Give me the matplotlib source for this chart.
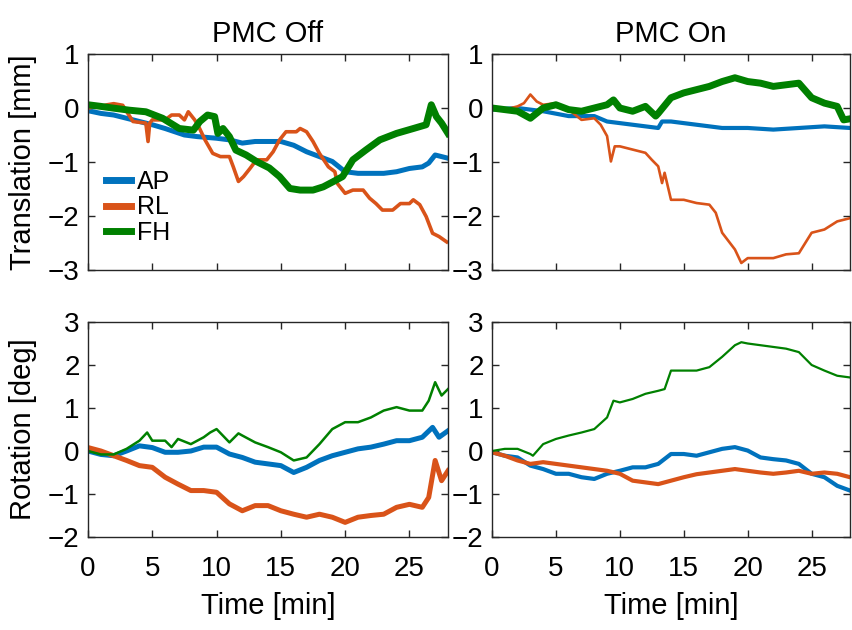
import matplotlib
matplotlib.use("Agg")
import matplotlib.pyplot as plt

plt.rcParams['font.family'] = ['Liberation Sans', 'DejaVu Sans']

# ---------------- data ----------------
series_names = ["AP", "RL", "FH"]
col_titles = ["PMC Off", "PMC On"]
row_labels = ["Translation [mm]", "Rotation [deg]"]
x_ticks = [0, 5, 10, 15, 20, 25]
trans_ticks = [-3, -2, -1, 0, 1]
rot_ticks = [-2, -1, 0, 1, 2, 3]

# Translation, PMC Off
t_off_ap = [0, 1, 2, 3, 4, 5, 6, 7, 7.5, 8.5, 10, 11, 12, 13, 14, 15, 16, 17, 18, 19, 20, 21, 22, 23, 24, 25, 26, 26.5, 27, 27.5, 28]
off_trans_ap = [-0.05, -0.10, -0.13, -0.19, -0.25, -0.31, -0.38, -0.46, -0.50, -0.53, -0.56, -0.59, -0.65, -0.62, -0.62, -0.62, -0.69, -0.81, -0.90, -0.99, -1.18, -1.21, -1.21, -1.21, -1.18, -1.12, -1.09, -1.02, -0.87, -0.90, -0.93]
t_off_rl = [0, 0.5, 1, 1.5, 2, 2.7, 3.5, 4.5, 4.67, 4.8, 5, 6, 6.5, 7.1, 7.5, 7.8, 8.3, 8.6, 9.1, 9.7, 10.3, 11, 11.3, 11.7, 12.1, 12.6, 13.1, 13.9, 14.4, 14.9, 15.4, 16.2, 16.5, 17, 17.5, 18, 18.7, 19.2, 19.4, 20, 20.6, 21.4, 21.9, 22.4, 22.9, 23.7, 24.3, 25, 25.3, 25.8, 26.3, 26.8, 27.3, 27.9]
off_trans_rl = [0.0, 0.02, 0.03, 0.06, 0.08, 0.05, -0.25, -0.28, -0.62, -0.28, -0.22, -0.22, -0.13, -0.13, -0.22, -0.07, -0.22, -0.34, -0.59, -0.84, -0.90, -0.90, -1.09, -1.36, -1.27, -1.12, -0.96, -0.96, -0.81, -0.59, -0.44, -0.44, -0.38, -0.44, -0.62, -0.84, -1.09, -1.18, -1.40, -1.58, -1.52, -1.52, -1.67, -1.77, -1.89, -1.89, -1.77, -1.77, -1.70, -1.79, -2.01, -2.32, -2.38, -2.48]
t_off_fh = [0, 1, 1.9, 3.2, 4.5, 5.8, 7.1, 8.2, 8.7, 9.3, 9.85, 10.1, 10.5, 11, 11.5, 12.3, 13.1, 14.1, 14.9, 15.7, 16.5, 17.5, 18.3, 19.1, 19.8, 20.6, 21.6, 22.7, 24, 25.3, 26.3, 26.7, 27.1, 27.5, 28]
off_trans_fh = [0.06, 0.03, 0.0, -0.04, -0.07, -0.19, -0.38, -0.41, -0.25, -0.13, -0.16, -0.47, -0.38, -0.53, -0.78, -0.87, -0.99, -1.11, -1.27, -1.49, -1.52, -1.52, -1.46, -1.36, -1.27, -0.96, -0.78, -0.59, -0.47, -0.38, -0.31, 0.06, -0.16, -0.28, -0.47]

# Translation, PMC On
t_on_ap = [0, 2, 4, 6, 8, 9, 10, 12, 13, 13.3, 14, 16, 18, 20, 22, 24, 26, 28]
on_trans_ap = [-0.03, 0.0, -0.06, -0.15, -0.15, -0.25, -0.28, -0.34, -0.37, -0.25, -0.25, -0.31, -0.37, -0.37, -0.40, -0.37, -0.34, -0.37]
t_on_rl = [0, 1, 2, 2.5, 3, 3.5, 4, 5, 6, 7, 8, 8.5, 9, 9.3, 9.6, 10, 11, 12, 12.5, 13, 13.3, 13.5, 14, 15, 16, 17, 17.5, 18, 19, 19.5, 20, 21, 22, 23, 24, 25, 26, 27, 28]
on_trans_rl = [0.0, -0.03, 0.03, 0.09, 0.25, 0.12, 0.06, 0.09, -0.03, -0.22, -0.19, -0.31, -0.52, -0.99, -0.71, -0.71, -0.77, -0.83, -0.96, -1.08, -1.39, -1.20, -1.70, -1.70, -1.76, -1.79, -1.94, -2.31, -2.62, -2.87, -2.78, -2.78, -2.78, -2.71, -2.69, -2.31, -2.25, -2.10, -2.04]
t_on_fh = [0, 1, 2, 3, 4, 5, 6, 7, 8, 9, 9.5, 10, 11, 12, 12.8, 13, 14, 15, 16, 17, 18, 19, 20, 21, 22, 23, 24, 25, 26, 27, 27.5, 28]
on_trans_fh = [0.0, -0.03, -0.06, -0.19, 0.0, 0.06, -0.03, -0.06, 0.0, 0.06, 0.15, 0.0, -0.06, 0.03, -0.15, -0.10, 0.19, 0.28, 0.34, 0.40, 0.49, 0.56, 0.49, 0.46, 0.40, 0.43, 0.46, 0.19, 0.09, 0.03, -0.22, -0.20]

# Rotation, PMC Off
t_roff_ap = [0, 1, 2, 3, 4, 5, 6, 7, 8, 9, 10, 11, 12, 13, 14, 15, 16, 17, 18, 19, 20, 21, 22, 23, 24, 25, 26, 26.8, 27.3, 28]
off_rot_ap = [0.0, -0.08, -0.11, 0.0, 0.12, 0.08, -0.03, -0.03, 0.0, 0.09, 0.09, -0.07, -0.15, -0.26, -0.30, -0.34, -0.50, -0.38, -0.22, -0.11, -0.03, 0.05, 0.09, 0.16, 0.24, 0.24, 0.32, 0.55, 0.32, 0.47]
t_roff_rl = [0, 1, 2, 3, 4, 5, 6, 7, 8, 9, 10, 11, 12, 13, 14, 15, 16, 17, 18, 19, 20, 21, 22, 23, 24, 25, 26, 26.5, 27, 27.5, 28]
off_rot_rl = [0.08, 0.0, -0.11, -0.22, -0.34, -0.38, -0.61, -0.77, -0.92, -0.92, -0.96, -1.23, -1.39, -1.27, -1.27, -1.39, -1.47, -1.54, -1.47, -1.54, -1.66, -1.54, -1.50, -1.47, -1.31, -1.24, -1.31, -1.08, -0.22, -0.69, -0.46]
t_roff_fh = [0, 1, 2, 3, 4, 4.6, 5, 6, 6.5, 7, 8, 9, 9.5, 10, 11, 11.7, 12, 13, 14, 15, 16, 17, 18, 19, 20, 21, 22, 23, 24, 25, 26, 26.5, 27, 27.5, 28]
off_rot_fh = [0.0, -0.08, -0.08, 0.05, 0.24, 0.43, 0.24, 0.24, 0.09, 0.28, 0.16, 0.32, 0.43, 0.51, 0.20, 0.41, 0.36, 0.20, 0.09, -0.03, -0.22, -0.15, 0.16, 0.51, 0.67, 0.67, 0.78, 0.94, 1.02, 0.94, 0.94, 1.17, 1.60, 1.29, 1.44]

# Rotation, PMC On
t_ron_ap = [0, 1, 2, 3, 4, 5, 6, 7, 8, 9, 10, 11, 12, 13, 14, 15, 16, 17, 18, 19, 20, 21, 22, 23, 24, 25, 26, 27, 28]
on_rot_ap = [-0.03, -0.11, -0.15, -0.34, -0.42, -0.53, -0.53, -0.61, -0.65, -0.53, -0.46, -0.38, -0.38, -0.30, -0.07, -0.07, -0.11, -0.03, 0.05, 0.09, 0.01, -0.15, -0.19, -0.22, -0.30, -0.53, -0.61, -0.81, -0.92]
t_ron_rl = [0, 1, 2, 3, 4, 5, 6, 7, 8, 9, 10, 11, 12, 13, 14, 15, 16, 17, 18, 19, 20, 21, 22, 23, 24, 25, 26, 27, 28]
on_rot_rl = [-0.03, -0.11, -0.22, -0.30, -0.26, -0.30, -0.34, -0.38, -0.42, -0.46, -0.53, -0.69, -0.73, -0.77, -0.69, -0.61, -0.54, -0.50, -0.46, -0.42, -0.46, -0.50, -0.53, -0.50, -0.46, -0.53, -0.50, -0.53, -0.61]
t_ron_fh = [0, 1, 2, 3, 3.2, 4, 5, 6, 7, 8, 9, 9.5, 10, 11, 12, 13, 13.5, 14, 15, 16, 17, 18, 19, 19.5, 20, 21, 22, 23, 24, 25, 26, 27, 28]
on_rot_fh = [0.0, 0.05, 0.05, -0.07, -0.11, 0.16, 0.28, 0.36, 0.43, 0.51, 0.78, 1.17, 1.13, 1.21, 1.33, 1.40, 1.44, 1.87, 1.87, 1.87, 1.95, 2.19, 2.46, 2.53, 2.50, 2.46, 2.42, 2.38, 2.30, 2.00, 1.87, 1.75, 1.71]

# ---------------- styling ----------------
colors = ["#0072BD", "#D95319", "#008000"]
spine_color = "#262626"
FS = 20

panels = [
    (0, 0, [(t_off_ap, off_trans_ap, 3.6), (t_off_rl, off_trans_rl, 2.6), (t_off_fh, off_trans_fh, 5.0)]),
    (0, 1, [(t_on_ap, on_trans_ap, 3.0), (t_on_rl, on_trans_rl, 1.9), (t_on_fh, on_trans_fh, 5.0)]),
    (1, 0, [(t_roff_ap, off_rot_ap, 3.6), (t_roff_rl, off_rot_rl, 3.6), (t_roff_fh, off_rot_fh, 1.8)]),
    (1, 1, [(t_ron_ap, on_rot_ap, 3.0), (t_ron_rl, on_rot_rl, 3.0), (t_ron_fh, on_rot_fh, 1.6)]),
]

W, H = 853, 630
fig = plt.figure(figsize=(W / 100, H / 100), dpi=100)
lefts = [88, 492]
widths = [360, 358]
tops = [54, 322]
heights = [216, 215]

axes = {}
for r in range(2):
    for c in range(2):
        ax = fig.add_axes([lefts[c] / W, (H - tops[r] - heights[r]) / H, widths[c] / W, heights[r] / H])
        axes[(r, c)] = ax

for r, c, lines in panels:
    ax = axes[(r, c)]
    for (t, y, lw), col, name in zip(lines, colors, series_names):
        ax.plot(t, y, color=col, lw=lw, label=name)
    ax.set_xlim(0, 28)
    ax.set_xticks(x_ticks)
    if r == 0:
        ax.set_ylim(-3, 1)
        ax.set_yticks(trans_ticks)
        ax.set_xticklabels([])
        ax.set_title(col_titles[c], fontsize=FS + 1, pad=9)
    else:
        ax.set_ylim(-2, 3)
        ax.set_yticks(rot_ticks)
        ax.set_xlabel("Time [min]", fontsize=FS + 1, labelpad=7)
    if c == 0:
        ax.set_ylabel(row_labels[r], fontsize=FS + 1, labelpad=8)
    ax.tick_params(direction='in', top=True, right=True, length=5, width=1,
                   color=spine_color, labelsize=FS)
    ax.tick_params(axis='y', pad=6)
    ax.tick_params(axis='x', pad=14)
    for s in ax.spines.values():
        s.set_color(spine_color)
        s.set_linewidth(1.0)

leg = axes[(0, 0)].legend(loc='center left', bbox_to_anchor=(0.05, 0.29), frameon=False,
                          fontsize=18, handlelength=1.0, handletextpad=0.25,
                          labelspacing=0.05, borderpad=0, borderaxespad=0)
for h in leg.legend_handles:
    h.set_linewidth(5)

fig.savefig("out.png", dpi=100)
